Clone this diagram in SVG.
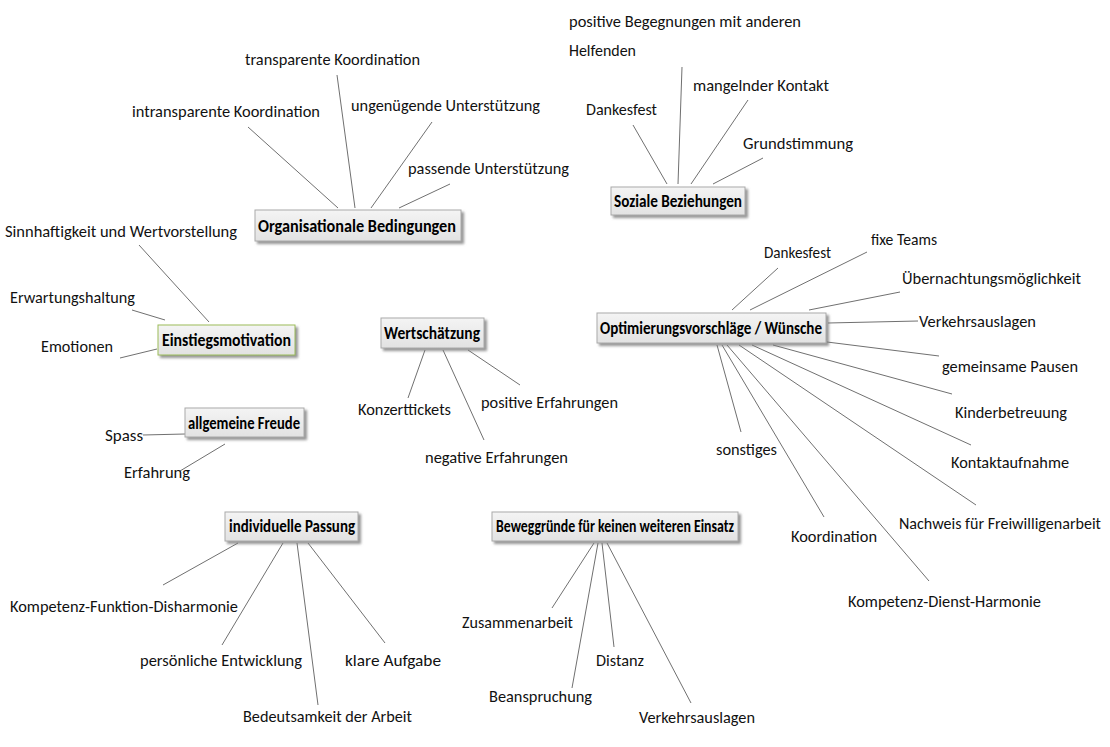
<svg xmlns="http://www.w3.org/2000/svg" width="1110" height="747" viewBox="0 0 1110 747">
<defs>
<linearGradient id="g" x1="0" y1="0" x2="0" y2="1"><stop offset="0" stop-color="#f4f4f4"/><stop offset="1" stop-color="#e2e2e2"/></linearGradient>
<filter id="sh" x="-10%" y="-30%" width="125%" height="170%"><feDropShadow dx="2.5" dy="2.5" stdDeviation="1" flood-color="#7a7a7a" flood-opacity="0.8"/></filter>
<style>
text{font-family:Carlito,Lato,"Liberation Sans",sans-serif;font-size:17px;fill:#111}
.b{font-weight:bold;fill:#000}
.s{font-size:16px}
.n{fill:url(#g);stroke:#a9a9a9;stroke-width:1;filter:url(#sh)}
.gr{stroke:#9bbb59}
#conn line{stroke:#707070;stroke-width:1}
</style>
</defs>
<rect width="1110" height="747" fill="#fff"/>
<g id="conn">
<line x1="248" y1="127" x2="338" y2="208"/>
<line x1="337" y1="75" x2="355" y2="208"/>
<line x1="432" y1="122" x2="371" y2="208"/>
<line x1="450" y1="184" x2="399" y2="208"/>
<line x1="633" y1="125" x2="667" y2="184"/>
<line x1="682" y1="67" x2="678" y2="184"/>
<line x1="748" y1="100" x2="691" y2="184"/>
<line x1="763" y1="158" x2="713" y2="184"/>
<line x1="139" y1="245" x2="209" y2="322"/>
<line x1="132" y1="310" x2="165" y2="320"/>
<line x1="120" y1="358" x2="157" y2="349"/>
<line x1="408" y1="398" x2="425" y2="350"/>
<line x1="484" y1="440" x2="443" y2="350"/>
<line x1="520" y1="385" x2="468" y2="350"/>
<line x1="143" y1="435" x2="185" y2="434"/>
<line x1="180" y1="471" x2="225" y2="444"/>
<line x1="163" y1="585" x2="238" y2="543"/>
<line x1="222" y1="645" x2="283" y2="543"/>
<line x1="318" y1="705" x2="297" y2="543"/>
<line x1="385" y1="643" x2="308" y2="543"/>
<line x1="552" y1="608" x2="594" y2="543"/>
<line x1="572" y1="688" x2="598" y2="543"/>
<line x1="614" y1="647" x2="602" y2="543"/>
<line x1="691" y1="703" x2="607" y2="543"/>
<line x1="778" y1="268" x2="732" y2="310"/>
<line x1="867" y1="252" x2="750" y2="310"/>
<line x1="900" y1="292" x2="809" y2="310"/>
<line x1="918" y1="321" x2="828" y2="323"/>
<line x1="939" y1="356" x2="827" y2="342"/>
<line x1="952" y1="394" x2="773" y2="345"/>
<line x1="971" y1="445" x2="752" y2="345"/>
<line x1="976" y1="505" x2="739" y2="345"/>
<line x1="929" y1="581" x2="727" y2="345"/>
<line x1="824" y1="517" x2="722" y2="345"/>
<line x1="741" y1="432" x2="717" y2="345"/>
</g>
<g id="org"><rect class="n" x="255" y="210" width="206" height="31"/><text class="b" x="258" y="232" textLength="198" lengthAdjust="spacingAndGlyphs">Organisationale Bedingungen</text></g>
<g id="org-1"><text x="245" y="65" textLength="175" lengthAdjust="spacingAndGlyphs">transparente Koordination</text></g>
<g id="org-2"><text x="132" y="117" textLength="188" lengthAdjust="spacingAndGlyphs">intransparente Koordination</text></g>
<g id="org-3"><text x="351" y="111" textLength="189" lengthAdjust="spacingAndGlyphs">ungenügende Unterstützung</text></g>
<g id="org-4"><text x="408" y="174" textLength="161" lengthAdjust="spacingAndGlyphs">passende Unterstützung</text></g>
<g id="soz"><rect class="n" x="611" y="187" width="134" height="28"/><text class="b" x="614" y="207" textLength="128" lengthAdjust="spacingAndGlyphs">Soziale Beziehungen</text></g>
<g id="soz-1"><text x="569" y="27" textLength="232" lengthAdjust="spacingAndGlyphs">positive Begegnungen mit anderen</text><text x="569" y="56" textLength="67" lengthAdjust="spacingAndGlyphs">Helfenden</text></g>
<g id="soz-2"><text x="586" y="115" textLength="71" lengthAdjust="spacingAndGlyphs">Dankesfest</text></g>
<g id="soz-3"><text x="693" y="91" textLength="136" lengthAdjust="spacingAndGlyphs">mangelnder Kontakt</text></g>
<g id="soz-4"><text x="743" y="149" textLength="110" lengthAdjust="spacingAndGlyphs">Grundstimmung</text></g>
<g id="ein"><rect class="n gr" x="158" y="325" width="137" height="30"/><text class="b" x="162" y="346" textLength="129" lengthAdjust="spacingAndGlyphs">Einstiegsmotivation</text></g>
<g id="ein-1"><text x="5" y="237" textLength="232" lengthAdjust="spacingAndGlyphs">Sinnhaftigkeit und Wertvorstellung</text></g>
<g id="ein-2"><text x="10" y="303" textLength="125" lengthAdjust="spacingAndGlyphs">Erwartungshaltung</text></g>
<g id="ein-3"><text x="41" y="352" textLength="72" lengthAdjust="spacingAndGlyphs">Emotionen</text></g>
<g id="wert"><rect class="n" x="381" y="318" width="103" height="30"/><text class="b" x="384" y="339" textLength="96" lengthAdjust="spacingAndGlyphs">Wertschätzung</text></g>
<g id="wert-1"><text x="358" y="415" textLength="93" lengthAdjust="spacingAndGlyphs">Konzerttickets</text></g>
<g id="wert-2"><text x="481" y="408" textLength="137" lengthAdjust="spacingAndGlyphs">positive Erfahrungen</text></g>
<g id="wert-3"><text x="425" y="463" textLength="143" lengthAdjust="spacingAndGlyphs">negative Erfahrungen</text></g>
<g id="freu"><rect class="n" x="185" y="408" width="119" height="29"/><text class="b" x="188" y="429" textLength="112" lengthAdjust="spacingAndGlyphs">allgemeine Freude</text></g>
<g id="freu-1"><text x="105" y="441" textLength="38" lengthAdjust="spacingAndGlyphs">Spass</text></g>
<g id="freu-2"><text x="124" y="478" textLength="66" lengthAdjust="spacingAndGlyphs">Erfahrung</text></g>
<g id="pass"><rect class="n" x="225" y="512" width="133" height="29"/><text class="b" x="229" y="532" textLength="126" lengthAdjust="spacingAndGlyphs">individuelle Passung</text></g>
<g id="pass-1"><text x="10" y="612" textLength="228" lengthAdjust="spacingAndGlyphs">Kompetenz-Funktion-Disharmonie</text></g>
<g id="pass-2"><text x="140" y="666" textLength="162" lengthAdjust="spacingAndGlyphs">persönliche Entwicklung</text></g>
<g id="pass-3"><text x="345" y="666" textLength="96" lengthAdjust="spacingAndGlyphs">klare Aufgabe</text></g>
<g id="pass-4"><text x="243" y="722" textLength="169" lengthAdjust="spacingAndGlyphs">Bedeutsamkeit der Arbeit</text></g>
<g id="bew"><rect class="n" x="492" y="512" width="246" height="29"/><text class="b" x="496" y="532" textLength="238" lengthAdjust="spacingAndGlyphs">Beweggründe für keinen weiteren Einsatz</text></g>
<g id="bew-1"><text x="462" y="628" textLength="111" lengthAdjust="spacingAndGlyphs">Zusammenarbeit</text></g>
<g id="bew-2"><text x="596" y="666" textLength="48" lengthAdjust="spacingAndGlyphs">Distanz</text></g>
<g id="bew-3"><text x="489" y="702" textLength="103" lengthAdjust="spacingAndGlyphs">Beanspruchung</text></g>
<g id="bew-4"><text x="639" y="723" textLength="116" lengthAdjust="spacingAndGlyphs">Verkehrsauslagen</text></g>
<g id="opt"><rect class="n" x="597" y="313" width="229" height="30"/><text class="b" x="600" y="334" textLength="222" lengthAdjust="spacingAndGlyphs">Optimierungsvorschläge / Wünsche</text></g>
<g id="opt-1"><text x="764" y="258" textLength="67" lengthAdjust="spacingAndGlyphs">Dankesfest</text></g>
<g id="opt-2"><text x="871" y="245" textLength="66" lengthAdjust="spacingAndGlyphs">fixe Teams</text></g>
<g id="opt-3"><text x="902" y="284" textLength="179" lengthAdjust="spacingAndGlyphs">Übernachtungsmöglichkeit</text></g>
<g id="opt-4"><text x="919" y="327" textLength="117" lengthAdjust="spacingAndGlyphs">Verkehrsauslagen</text></g>
<g id="opt-5"><text x="942" y="372" textLength="136" lengthAdjust="spacingAndGlyphs">gemeinsame Pausen</text></g>
<g id="opt-6"><text x="955" y="418" textLength="112" lengthAdjust="spacingAndGlyphs">Kinderbetreuung</text></g>
<g id="opt-7"><text x="951" y="468" textLength="118" lengthAdjust="spacingAndGlyphs">Kontaktaufnahme</text></g>
<g id="opt-8"><text class="s" x="899" y="529" textLength="202" lengthAdjust="spacingAndGlyphs">Nachweis für Freiwilligenarbeit</text></g>
<g id="opt-9"><text x="848" y="607" textLength="193" lengthAdjust="spacingAndGlyphs">Kompetenz-Dienst-Harmonie</text></g>
<g id="opt-10"><text x="791" y="542" textLength="86" lengthAdjust="spacingAndGlyphs">Koordination</text></g>
<g id="opt-11"><text x="716" y="455" textLength="61" lengthAdjust="spacingAndGlyphs">sonstiges</text></g>
</svg>
